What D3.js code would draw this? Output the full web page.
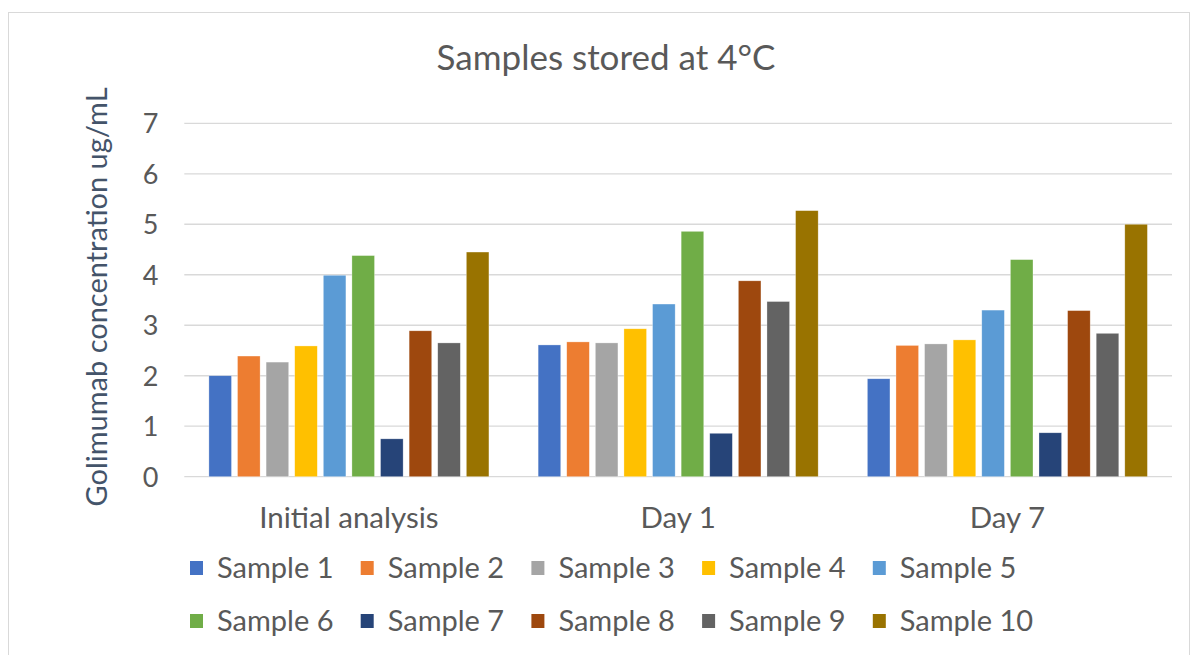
<!DOCTYPE html>
<html><head><meta charset="utf-8">
<script src="https://cdn.jsdelivr.net/npm/d3@7"></script>
<style>html,body{margin:0;padding:0;background:#fff;}svg{display:block;font-family:Lato,"Open Sans",sans-serif;}</style>
</head><body><svg id="c" width="1192" height="655"></svg>
<script>
const categories = ["Initial analysis", "Day 1", "Day 7"];
const series = ["Sample 1","Sample 2","Sample 3","Sample 4","Sample 5","Sample 6","Sample 7","Sample 8","Sample 9","Sample 10"];
const initialValues = [2.00, 2.39, 2.27, 2.59, 3.99, 4.38, 0.75, 2.89, 2.65, 4.45];
const day1Values    = [2.61, 2.67, 2.65, 2.93, 3.42, 4.86, 0.86, 3.88, 3.47, 5.27];
const day7Values    = [1.94, 2.60, 2.63, 2.71, 3.30, 4.30, 0.87, 3.29, 2.84, 5.00];
const yTicks = [0,1,2,3,4,5,6,7];
const colors = ["#4472C4","#ED7D31","#A5A5A5","#FFC000","#5B9BD5","#70AD47","#264478","#9E480E","#636363","#997300"];

const valuesByCat = [initialValues, day1Values, day7Values];
const svg = d3.select("#c");
svg.append("rect").attr("x",8.5).attr("y",12.5).attr("width",1181).attr("height",660)
  .attr("fill","#fff").attr("stroke","#D9D9D9").attr("stroke-width",1);

const pLeft = 184.3, pRight = 1172, pTop = 123.3, pBottom = 476.7;
const x0 = d3.scaleBand().domain(categories).range([pLeft, pRight]).padding(0);
const x1 = d3.scaleBand().domain(series).range([0, x0.bandwidth()]).paddingInner(0.21).paddingOuter(0.86);
const y = d3.scaleLinear().domain([0,7]).range([pBottom, pTop]);

svg.append("g").selectAll("line").data(yTicks).join("line")
  .attr("x1", pLeft).attr("x2", pRight).attr("y1", d=>y(d)).attr("y2", d=>y(d))
  .attr("stroke","#D9D9D9").attr("stroke-width",1.3);

const yAxis = d3.axisLeft(y).tickValues(yTicks).tickFormat(d3.format("d")).tickSize(0).tickPadding(0);
const ga = svg.append("g").attr("transform",`translate(${pLeft-26},0)`).call(yAxis);
ga.select(".domain").remove();
ga.selectAll("text").attr("font-size",27).attr("fill","#595959").attr("font-family","Lato,'Open Sans',sans-serif").attr("dy","0.35em");

const groups = svg.append("g").selectAll("g").data(categories).join("g")
  .attr("transform", d=>`translate(${x0(d)},0)`);
groups.selectAll("rect").data((d,i)=>series.map((s,j)=>({s, v: valuesByCat[i][j], j})))
  .join("rect")
  .attr("x", d=>x1(d.s)).attr("width", x1.bandwidth())
  .attr("y", d=>y(d.v)).attr("height", d=>y(0)-y(d.v))
  .attr("fill", d=>colors[d.j]).attr("stroke","#fff").attr("stroke-width",0.6).attr("stroke-opacity",0.5);

const xAxis = d3.axisBottom(x0).tickSize(0).tickPadding(0);
const gx = svg.append("g").attr("transform",`translate(0,${pBottom+41})`).call(xAxis);
gx.select(".domain").remove();
gx.selectAll("text").attr("font-size",29.5).attr("fill","#595959").attr("font-family","Lato,'Open Sans',sans-serif").attr("dy","0.35em");

svg.append("text").attr("x",606).attr("y",58).attr("text-anchor","middle").attr("dy","0.35em")
  .attr("font-size",35).attr("fill","#595959").text("Samples stored at 4°C");

svg.append("text").attr("transform","translate(97,297) rotate(-90)").attr("text-anchor","middle").attr("dy","0.35em")
  .attr("font-size",29).attr("fill","#44546A").text("Golimumab concentration ug/mL");

const leg = svg.append("g");
const item = leg.selectAll("g").data(series).join("g")
  .attr("transform",(d,i)=>`translate(${190 + (i%5)*170.7},${i<5 ? 568 : 621})`);
item.append("rect").attr("x",0).attr("y",-7).attr("width",13).attr("height",14).attr("fill",(d,i)=>colors[i]);
item.append("text").attr("x",27).attr("dy","0.35em").attr("font-size",29).attr("fill","#595959").text(d=>d);
</script></body></html>
